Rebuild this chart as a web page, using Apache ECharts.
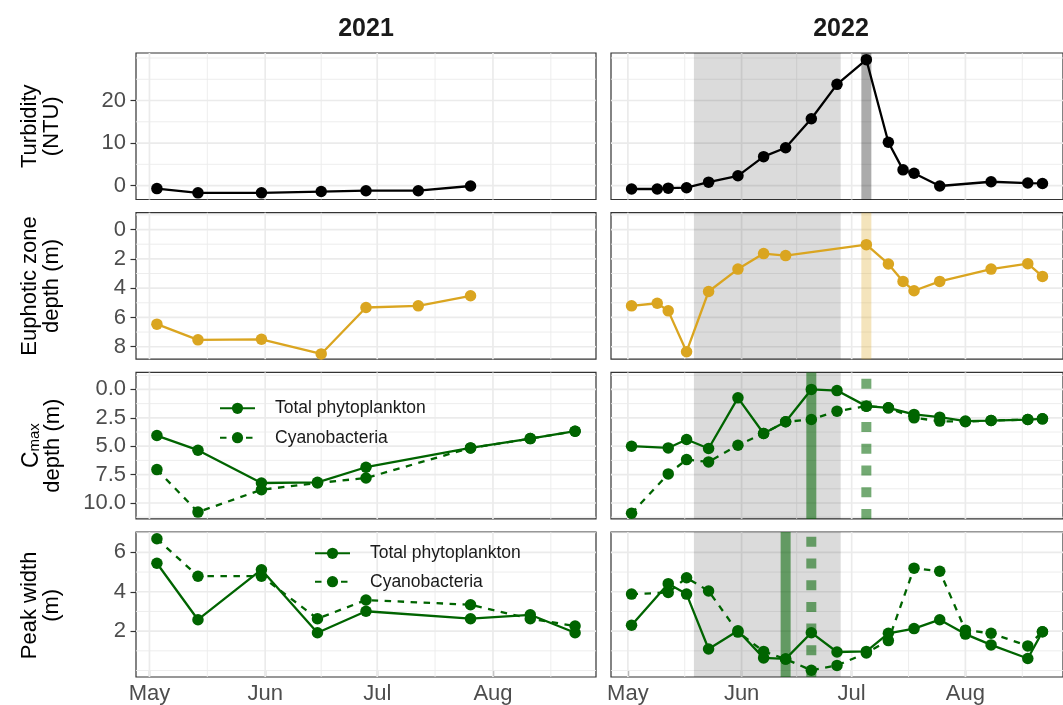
<!DOCTYPE html>
<html>
<head>
<meta charset="utf-8">
<title>Turbidity, euphotic depth and phytoplankton maxima, 2021–2022</title>
<script src="https://cdn.jsdelivr.net/npm/echarts@6/dist/echarts.min.js"></script>
<style>
  html, body { margin: 0; padding: 0; background: #fff; }
  #chart { width: 1063px; height: 705px; }
</style>
</head>
<body>
<div id="chart"></div>
<script>
// ---------- 2021 sampling ----------
const dates2021 = ['2021-05-03', '2021-05-14', '2021-05-31', '2021-06-16', '2021-06-28', '2021-07-12', '2021-07-26'];
const turbidity2021 = [-0.7, -1.7, -1.7, -1.4, -1.2, -1.2, -0.1];
const euphotic2021 = [6.46, 7.53, 7.49, 8.49, 5.32, 5.21, 4.52];

const profileDates2021 = ['2021-05-03', '2021-05-14', '2021-05-31', '2021-06-15', '2021-06-28', '2021-07-26', '2021-08-11', '2021-08-23'];
const cmaxTotal2021 = [4.06, 5.35, 8.24, 8.18, 6.85, 5.15, 4.33, 3.68];
const cmaxCyano2021 = [7.06, 10.8, 8.83, 8.24, 7.8, 5.15, 4.33, 3.68];
const widthTotal2021 = [5.45, 2.58, 5.12, 1.92, 3.01, 2.63, 2.83, 1.92];
const widthCyano2021 = [6.69, 4.79, 4.79, 2.63, 3.58, 3.34, 2.63, 2.26];

// ---------- 2022 sampling ----------
const turbDates2022 = ['2022-05-02', '2022-05-09', '2022-05-12', '2022-05-17', '2022-05-23', '2022-05-31', '2022-06-07', '2022-06-13', '2022-06-20', '2022-06-27', '2022-07-05', '2022-07-11', '2022-07-15', '2022-07-18', '2022-07-25', '2022-08-08', '2022-08-18', '2022-08-22'];
const turbidity2022 = [-0.8, -0.8, -0.6, -0.5, 0.8, 2.3, 6.8, 8.9, 15.7, 23.8, 29.6, 10.2, 3.7, 2.9, -0.1, 0.9, 0.6, 0.5];

const euphDates2022 = ['2022-05-02', '2022-05-09', '2022-05-12', '2022-05-17', '2022-05-23', '2022-05-31', '2022-06-07', '2022-06-13', '2022-07-05', '2022-07-11', '2022-07-15', '2022-07-18', '2022-07-25', '2022-08-08', '2022-08-18', '2022-08-22'];
const euphotic2022 = [5.21, 5.03, 5.55, 8.34, 4.23, 2.70, 1.64, 1.78, 1.03, 2.35, 3.54, 4.18, 3.54, 2.70, 2.33, 3.2];

const profileDates2022 = ['2022-05-02', '2022-05-12', '2022-05-17', '2022-05-23', '2022-05-31', '2022-06-07', '2022-06-13', '2022-06-20', '2022-06-27', '2022-07-05', '2022-07-11', '2022-07-18', '2022-07-25', '2022-08-01', '2022-08-08', '2022-08-18', '2022-08-22'];
const cmaxTotal2022 = [5.0, 5.15, 4.41, 5.2, 0.74, 3.88, 2.85, 0.0, 0.1, 1.47, 1.62, 2.2, 2.44, 2.79, 2.74, 2.65, 2.59];
const cmaxCyano2022 = [10.9, 7.44, 6.18, 6.38, 4.91, 3.88, 2.85, 2.65, 1.91, 1.47, 1.62, 2.5, 2.79, 2.85, 2.74, 2.65, 2.59];
const widthTotal2022 = [2.30, 4.41, 3.88, 1.09, 2.02, 0.64, 0.59, 1.92, 0.94, 0.97, 1.89, 2.13, 2.58, 1.85, 1.30, 0.61, 1.97];
const widthCyano2022 = [3.88, 3.96, 4.71, 4.04, 1.95, 0.97, 0.58, 0.01, 0.26, 0.89, 1.52, 5.2, 5.04, 2.05, 1.89, 1.25, 1.97];

// ---------- 2022 events ----------
const turbidPeriod2022 = ['2022-05-19', '2022-06-28'];
const peakTurbidity2022 = '2022-07-05';
const cmaxTotalEvent2022 = '2022-06-20';
const cmaxCyanoEvent2022 = '2022-07-05';
const widthTotalEvent2022 = '2022-06-13';
const widthCyanoEvent2022 = '2022-06-20';

// ---------- axis breaks ----------
const monthStarts = ['04-01', '05-01', '06-01', '07-01', '08-01', '09-01'];
const monthLabels = ['Apr', 'May', 'Jun', 'Jul', 'Aug', 'Sep'];
const turbidityTicks = [0, 10, 20];
const turbidityMinor = [5, 15, 25, 30];
const euphoticTicks = [0, 2, 4, 6, 8];
const euphoticMinor = [-1, 1, 3, 5, 7];
const cmaxTicks = [0, 2.5, 5, 7.5, 10];
const cmaxMinor = [-1.25, 1.25, 3.75, 6.25, 8.75, 11.25];
const widthTicks = [2, 4, 6];
const widthMinor = [0, 1, 3, 5, 7];
const yLimits = [[-3.27, 31.17], [-1.15, 8.85], [-1.5, 11.4], [-0.33, 7.03]];
const years = [2021, 2022];

// ---------- helpers ----------
const FONT = '"Liberation Sans", Arial, Helvetica, sans-serif';
const BLACK = '#000000', GOLD = '#DAA520', GREEN = '#006400';
const GREEN_BAND = 'rgba(0,100,0,0.55)';
const ts = s => { const [y, m, d] = s.split('-').map(Number); return new Date(y, m - 1, d).getTime(); };

// x range per year: data extent padded by 5% on each side
function xRange(dateLists) {
  const all = [].concat(...dateLists).map(ts);
  const lo = Math.min(...all), hi = Math.max(...all), pad = (hi - lo) * 0.05;
  return [lo - pad, hi + pad];
}
const xRanges = [
  xRange([dates2021, profileDates2021]),
  xRange([turbDates2022, euphDates2022, profileDates2022])
];

const rowsCfg = [
  { ticks: turbidityTicks, minor: turbidityMinor, inverse: false, fmt: v => String(v), title: 'Turbidity\n(NTU)' },
  { ticks: euphoticTicks, minor: euphoticMinor, inverse: true, fmt: v => String(v), title: 'Euphotic zone\ndepth (m)' },
  { ticks: cmaxTicks, minor: cmaxMinor, inverse: true, fmt: v => v.toFixed(1), title: null },
  { ticks: widthTicks, minor: widthMinor, inverse: false, fmt: v => String(v), title: 'Peak width\n(m)' }
];

const panels = [
  [
    { lines: [{ name: 'Turbidity 2021', d: dates2021, v: turbidity2021, color: BLACK }] },
    { lines: [{ name: 'Turbidity 2022', d: turbDates2022, v: turbidity2022, color: BLACK }],
      shade: true, marks: [{ d: peakTurbidity2022, color: 'rgba(0,0,0,0.33)' }] }
  ],
  [
    { lines: [{ name: 'Euphotic 2021', d: dates2021, v: euphotic2021, color: GOLD }] },
    { lines: [{ name: 'Euphotic 2022', d: euphDates2022, v: euphotic2022, color: GOLD }],
      shade: true, marks: [{ d: peakTurbidity2022, color: 'rgba(218,165,32,0.3)' }] }
  ],
  [
    { lines: [
      { name: 'Cyanobacteria', d: profileDates2021, v: cmaxCyano2021, color: GREEN, dashed: true },
      { name: 'Total phytoplankton', d: profileDates2021, v: cmaxTotal2021, color: GREEN }] },
    { lines: [
      { name: 'Cyanobacteria', d: profileDates2022, v: cmaxCyano2022, color: GREEN, dashed: true },
      { name: 'Total phytoplankton', d: profileDates2022, v: cmaxTotal2022, color: GREEN }],
      shade: true, marks: [
        { d: cmaxTotalEvent2022, color: GREEN_BAND },
        { d: cmaxCyanoEvent2022, color: GREEN_BAND, dashed: true }] }
  ],
  [
    { lines: [
      { name: 'Cyanobacteria', d: profileDates2021, v: widthCyano2021, color: GREEN, dashed: true },
      { name: 'Total phytoplankton', d: profileDates2021, v: widthTotal2021, color: GREEN }] },
    { lines: [
      { name: 'Cyanobacteria', d: profileDates2022, v: widthCyano2022, color: GREEN, dashed: true },
      { name: 'Total phytoplankton', d: profileDates2022, v: widthTotal2022, color: GREEN }],
      shade: true, marks: [
        { d: widthTotalEvent2022, color: GREEN_BAND },
        { d: widthCyanoEvent2022, color: GREEN_BAND, dashed: true }] }
  ]
];

// ---------- layout ----------
const PANEL_LEFT = [136, 611];
const PANEL_W = 460;
const PANEL_TOP0 = 53, PANEL_STEP = 159.7, PANEL_H = 146.5;
const TICK_FONT = 22;

const grid = [], xAxis = [], yAxis = [], series = [];

function monthTicksFor(c) {
  const [lo, hi] = xRanges[c];
  const majors = [], minors = [];
  const stamps = monthStarts.map(m => ts(years[c] + '-' + m));
  stamps.forEach((t, k) => {
    if (t > lo && t < hi) majors.push(t);
    if (k > 0) {
      const mid = (stamps[k - 1] + t) / 2;
      if (mid > lo && mid < hi) minors.push(mid);
    }
  });
  return { majors, minors, stamps };
}

for (let r = 0; r < 4; r++) {
  const row = rowsCfg[r];
  const [yMin, yMax] = yLimits[r];
  for (let c = 0; c < 2; c++) {
    const i = r * 2 + c;
    const [xMin, xMax] = xRanges[c];
    const mt = monthTicksFor(c);

    grid.push({
      left: PANEL_LEFT[c], top: PANEL_TOP0 + r * PANEL_STEP, width: PANEL_W, height: PANEL_H,
      show: true, backgroundColor: '#fff', borderColor: '#333', borderWidth: 1.2
    });

    // x is a day timestamp on a plain numeric scale; labels name the month starts
    xAxis.push({
      type: 'value', gridIndex: i, min: xMin, max: xMax, scale: true,
      axisLine: { show: false }, splitLine: { show: false },
      axisTick: { show: r === 3, customValues: mt.majors, length: 5.5, lineStyle: { color: '#333', width: 1.2 } },
      axisLabel: {
        show: r === 3, customValues: mt.majors, color: '#4d4d4d', fontSize: TICK_FONT, fontFamily: FONT, margin: 6,
        formatter: v => { const k = mt.stamps.indexOf(+v); return k >= 0 ? monthLabels[k] : ''; }
      }
    });

    yAxis.push({
      type: 'value', gridIndex: i, min: yMin, max: yMax, inverse: row.inverse,
      axisLine: { show: false }, splitLine: { show: false },
      axisTick: { show: c === 0, customValues: row.ticks, length: 5.5, lineStyle: { color: '#333', width: 1.2 } },
      axisLabel: { show: c === 0, customValues: row.ticks, color: '#4d4d4d', fontSize: TICK_FONT, fontFamily: FONT, margin: 10,
        formatter: v => row.fmt(v) }
    });

    // panel grid lines
    const gl = [];
    mt.minors.forEach(t => gl.push([t, yMin, 1]));
    row.minor.forEach(v => { if (v > yMin && v < yMax) gl.push([xMin, v, 3]); });
    mt.majors.forEach(t => gl.push([t, yMin, 0]));
    row.ticks.forEach(v => gl.push([xMin, v, 2]));
    series.push({
      type: 'custom', xAxisIndex: i, yAxisIndex: i, silent: true, z: 1,
      dimensions: ['x', 'y', 'kind'], encode: { x: 0, y: 1 },
      data: gl,
      renderItem: (params, api) => {
        const cs = params.coordSys;
        const p = api.coord([api.value(0), api.value(1)]);
        const kind = api.value(2);
        const shape = kind < 2
          ? { x1: p[0], y1: cs.y, x2: p[0], y2: cs.y + cs.height }
          : { x1: cs.x, y1: p[1], x2: cs.x + cs.width, y2: p[1] };
        return { type: 'line', shape, style: { stroke: '#ebebeb', lineWidth: kind % 2 === 0 ? 1.7 : 0.9 } };
      }
    });

    const panel = panels[r][c];
    if (panel.shade) {
      series.push({
        type: 'custom', xAxisIndex: i, yAxisIndex: i, silent: true, z: 2,
        dimensions: ['x', 'y', 'end'], encode: { x: 0, y: 1 },
        data: [[ts(turbidPeriod2022[0]), yMin, ts(turbidPeriod2022[1])]],
        renderItem: (params, api) => {
          const cs = params.coordSys;
          const x1 = api.coord([api.value(0), api.value(1)])[0];
          const x2 = api.coord([api.value(2), api.value(1)])[0];
          return { type: 'rect', shape: { x: x1, y: cs.y, width: x2 - x1, height: cs.height },
            style: { fill: 'rgba(0,0,0,0.14)' } };
        }
      });
    }
    if (panel.marks) {
      const marks = panel.marks;
      series.push({
        type: 'custom', xAxisIndex: i, yAxisIndex: i, silent: true, z: 3,
        dimensions: ['x', 'y', 'idx'], encode: { x: 0, y: 1 },
        data: marks.map((m, k) => [ts(m.d), yMin, k]),
        renderItem: (params, api) => {
          const cs = params.coordSys;
          const m = marks[api.value(2)];
          const x = api.coord([api.value(0), api.value(1)])[0];
          return { type: 'line',
            shape: { x1: x, y1: cs.y + cs.height, x2: x, y2: cs.y },
            style: { stroke: m.color, lineWidth: 10, lineDash: m.dashed ? [10, 11.7] : null, lineCap: 'butt' } };
        }
      });
    }
    panel.lines.forEach(l => {
      series.push({
        type: 'line', name: l.name, xAxisIndex: i, yAxisIndex: i, z: 5,
        data: l.d.map((s, k) => [ts(s), l.v[k]]),
        symbol: 'circle', symbolSize: 11.5, showSymbol: true, clip: false,
        lineStyle: { color: l.color, width: 2.3, type: l.dashed ? [6.5, 6.5] : 'solid' },
        itemStyle: { color: l.color },
        emphasis: { disabled: true }
      });
    });
  }
}

const legendBase = {
  orient: 'vertical', itemWidth: 35, itemHeight: 14, padding: 0, selectedMode: false,
  data: ['Total phytoplankton', 'Cyanobacteria'],
  textStyle: { fontSize: 17.5, fontFamily: FONT, color: '#1a1a1a', lineHeight: 18, padding: [0, 0, 0, 15] }
};
const legend = [
  Object.assign({}, legendBase, { left: 219, top: 399.3, itemGap: 11.4 }),
  Object.assign({}, legendBase, { left: 314, top: 544.3, itemGap: 10.4 })
];

const rowCenter = r => PANEL_TOP0 + r * PANEL_STEP + PANEL_H / 2;
const graphic = [
  { type: 'text', x: PANEL_LEFT[0] + PANEL_W / 2, y: 29,
    style: { text: String(years[0]), fontSize: 25, fontWeight: 'bold', fontFamily: FONT, fill: '#1a1a1a', align: 'center', verticalAlign: 'middle' } },
  { type: 'text', x: PANEL_LEFT[1] + PANEL_W / 2, y: 29,
    style: { text: String(years[1]), fontSize: 25, fontWeight: 'bold', fontFamily: FONT, fill: '#1a1a1a', align: 'center', verticalAlign: 'middle' } }
];
rowsCfg.forEach((row, r) => {
  if (row.title) {
    graphic.push({ type: 'text', x: 41, y: rowCenter(r), rotation: Math.PI / 2,
      style: { text: row.title, fontSize: 22, fontFamily: FONT, fill: '#000', lineHeight: 22, align: 'center', verticalAlign: 'middle' } });
  } else {
    graphic.push({ type: 'text', x: 42, y: rowCenter(r), rotation: Math.PI / 2,
      style: { text: '{c|C}{s|max}\n{d|depth (m)}', fill: '#000', align: 'center', verticalAlign: 'middle', fontFamily: FONT,
        rich: {
          c: { fontSize: 23, fontFamily: FONT, lineHeight: 22, verticalAlign: 'top', fill: '#000' },
          s: { fontSize: 15, fontFamily: FONT, lineHeight: 15, padding: [10, 0, 0, 0], verticalAlign: 'bottom', fill: '#000' },
          d: { fontSize: 22, fontFamily: FONT, lineHeight: 22, fill: '#000' }
        } } });
  }
});

const chart = echarts.init(document.getElementById('chart'), null, { renderer: 'canvas' });
chart.setOption({
  animation: false,
  backgroundColor: '#ffffff',
  textStyle: { fontFamily: FONT },
  grid, xAxis, yAxis, series, legend, graphic
});
</script>
</body>
</html>
